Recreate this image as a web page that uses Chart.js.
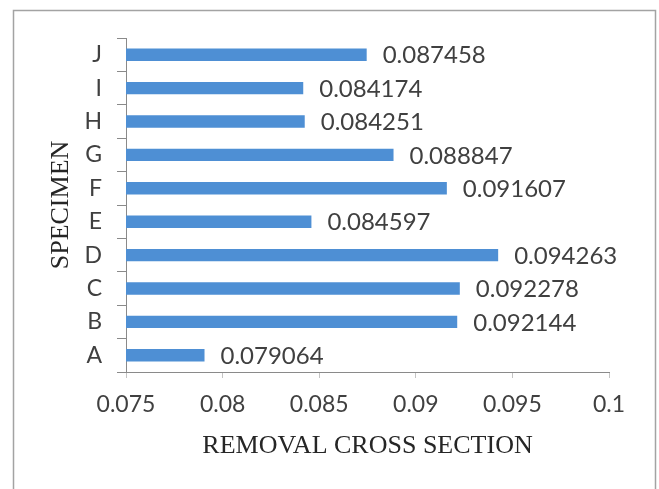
<!DOCTYPE html>
<html>
<head>
<meta charset="utf-8">
<script src="https://cdn.jsdelivr.net/npm/chart.js@4"></script>
<style>
  html, body { margin: 0; padding: 0; background: #ffffff; }
  #wrap { position: relative; width: 659px; height: 489px; }
</style>
</head>
<body>
<div id="wrap"><canvas id="removalChart" width="659" height="489"></canvas></div>
<script>
// Especímenes (de abajo hacia arriba) y su sección eficaz de remoción
const specimens = ['A', 'B', 'C', 'D', 'E', 'F', 'G', 'H', 'I', 'J'];
const removalValues = [0.079064, 0.092144, 0.092278, 0.094263, 0.084597, 0.091607, 0.088847, 0.084251, 0.084174, 0.087458];
const xTicks = [0.075, 0.08, 0.085, 0.09, 0.095, 0.1];

const labelFont = '"Lato", "Open Sans", sans-serif';
const titleFont = '"Liberation Serif", "Times New Roman", serif';

// Marco gris alrededor del gráfico
const framePlugin = {
    id: 'frame',
    beforeDraw(chart) {
        const ctx = chart.ctx;
        ctx.save();
        ctx.fillStyle = '#ffffff';
        ctx.fillRect(0, 0, chart.width, chart.height);
        ctx.strokeStyle = '#a3a3a3';
        ctx.lineWidth = 1.5;
        ctx.beginPath();
        ctx.moveTo(13.5, chart.height);
        ctx.lineTo(13.5, 10.5);
        ctx.lineTo(655.5, 10.5);
        ctx.lineTo(655.5, chart.height);
        ctx.stroke();
        ctx.restore();
    }
};

// Etiquetas con el valor al final de cada barra
const valueLabels = {
    id: 'valueLabels',
    afterDatasetsDraw(chart) {
        const ctx = chart.ctx;
        const meta = chart.getDatasetMeta(0);
        ctx.save();
        ctx.font = '24px ' + labelFont;
        ctx.fillStyle = '#404040';
        ctx.textAlign = 'left';
        ctx.textBaseline = 'middle';
        meta.data.forEach((bar, i) => {
            ctx.fillText(String(removalValues[i]), bar.x + 16, bar.y + 1);
        });
        ctx.restore();
    }
};

new Chart(document.getElementById('removalChart').getContext('2d'), {
    type: 'bar',
    data: {
        labels: specimens,
        datasets: [{
            data: removalValues,
            backgroundColor: '#4e8fd4',
            borderWidth: 0,
            categoryPercentage: 1,
            barPercentage: 0.37
        }]
    },
    options: {
        indexAxis: 'y',
        responsive: false,
        animation: false,
        layout: { padding: { top: 38, right: 50, bottom: 0, left: 0 } },
        plugins: {
            legend: { display: false },
            tooltip: { enabled: false }
        },
        scales: {
            x: {
                min: 0.075,
                max: 0.1,
                afterBuildTicks: axis => { axis.ticks = xTicks.map(v => ({ value: v })); },
                afterFit: axis => { axis.height = 117; },
                grid: { drawOnChartArea: false, drawTicks: true, tickLength: 6, color: '#c4c4c4' },
                border: { color: '#8a8a8a', width: 1 },
                ticks: {
                    padding: 13,
                    color: '#404040',
                    font: { family: labelFont, size: 23 },
                    callback: v => String(v)
                },
                title: {
                    display: true,
                    text: 'REMOVAL CROSS SECTION',
                    color: '#262626',
                    font: { family: titleFont, size: 26 },
                    padding: { top: 0, bottom: 27 }
                }
            },
            y: {
                reverse: true,
                afterFit: axis => { axis.width = 126; },
                grid: { drawOnChartArea: false, drawTicks: true, tickLength: 9, offset: true, color: '#8a8a8a' },
                border: { color: '#8a8a8a', width: 1 },
                ticks: {
                    padding: 15,
                    color: '#404040',
                    font: { family: labelFont, size: 23 }
                },
                title: {
                    display: true,
                    text: 'SPECIMEN',
                    color: '#262626',
                    font: { family: titleFont, size: 26 },
                    padding: { top: 46, bottom: 0 }
                }
            }
        }
    },
    plugins: [framePlugin, valueLabels]
});
</script>
</body>
</html>
